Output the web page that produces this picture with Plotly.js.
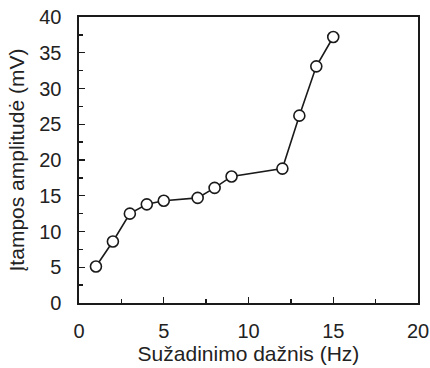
<!DOCTYPE html>
<html>
<head>
<meta charset="utf-8">
<script src="https://cdn.plot.ly/plotly-3.0.1.min.js"></script>
<style>html,body{margin:0;padding:0;background:#fff;}#chart{width:430px;height:368px;}</style>
</head>
<body>
<div id="chart"></div>
<script>
const freqHz = [1, 2, 3, 4, 5, 7, 8, 9, 12, 13, 14, 15];
const amplitudeMv = [5.1, 8.6, 12.5, 13.8, 14.3, 14.7, 16.1, 17.7, 18.8, 26.2, 33.1, 37.2];
const xTitle = 'Sužadinimo dažnis (Hz)';
const yTitle = 'Įtampos amplitudė (mV)';

const font = {family: '"Liberation Sans", Arial, sans-serif', size: 20, color: '#222'};
const titleFont = {family: '"Liberation Sans", Arial, sans-serif', size: 21, color: '#222'};
const trace = {
  x: freqHz, y: amplitudeMv, type: 'scatter', mode: 'lines+markers',
  line: {color: '#1a1a1a', width: 1.6},
  marker: {symbol: 'circle', size: 11, color: '#fff', line: {color: '#1a1a1a', width: 1.6}},
  cliponaxis: false, hoverinfo: 'none'
};
const axisCommon = {
  showgrid: false, zeroline: false, showline: true, mirror: true,
  linecolor: '#1a1a1a', linewidth: 1.6,
  ticks: 'inside', ticklen: 6, tickwidth: 1.3, tickcolor: '#1a1a1a',
  tickfont: font, dtick: 5, tick0: 0,
  minor: {ticks: 'inside', ticklen: 4, tickwidth: 1.3, tickcolor: '#1a1a1a', dtick: 2.5, showgrid: false}
};
const layout = {
  width: 430, height: 368,
  margin: {l: 79, r: 12, t: 17, b: 65},
  paper_bgcolor: '#fff', plot_bgcolor: '#fff',
  showlegend: false,
  font: font,
  xaxis: Object.assign({}, axisCommon, {range: [0, 20], ticklabelstandoff: 9,
    title: {text: xTitle, font: titleFont, standoff: 3}}),
  yaxis: Object.assign({}, axisCommon, {range: [0, 40], ticklabelstandoff: 12,
    title: {text: yTitle, font: titleFont, standoff: 9}})
};
Plotly.newPlot('chart', [trace], layout, {staticPlot: true});
</script>
</body>
</html>
